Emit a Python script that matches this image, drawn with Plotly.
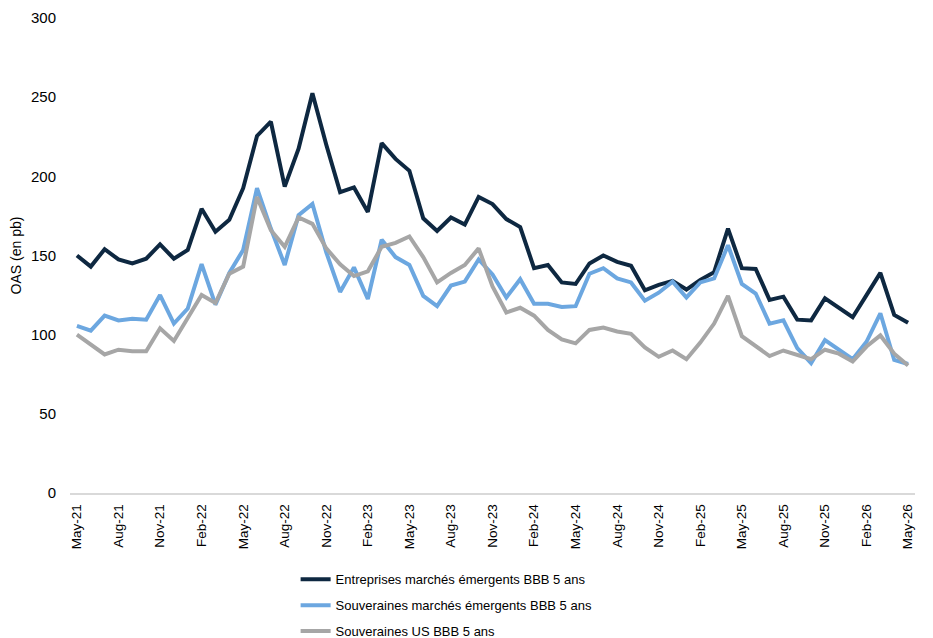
import pandas as pd
import plotly.graph_objects as go

# monthly categories May-21 .. May-26
months = [d.strftime("%b-%y") for d in pd.date_range("2021-05-01", "2026-05-01", freq="MS")]
tick_labels = months[::3]

# OAS in bp
em_corp_bbb = [150, 143, 154, 147.5, 145, 148, 157, 148, 153.5, 179.5,
               165, 172.5, 192.5, 225.5, 234.5, 193.5, 217.5, 252.5, 220, 190,
               193, 177.5, 221, 211, 203.5, 173.5, 165.5, 174, 169.5, 187,
               182.5, 173, 168, 142, 144, 133, 132, 145, 150, 146,
               143.5, 128, 131.5, 134, 128.5, 134.5, 139.5, 167, 142, 141.5,
               122, 124, 109.5, 109, 123, 117, 111, 125, 139, 112.5,
               107.5]
em_sov_bbb = [105.5, 102.5, 112, 109, 110, 109.5, 125, 107, 116.5, 144.5,
              119, 139, 153.5, 192.5, 167, 144, 175.5, 182.5, 152, 127,
              142.5, 122.5, 160, 149, 144, 124.5, 118, 131, 133.5, 147.5,
              138, 123.5, 135, 119.5, 119.5, 117.5, 118, 138.5, 142, 135.5,
              133, 121.5, 126.5, 133.5, 123.5, 133, 135.5, 156.5, 132, 126,
              107, 109, 91.5, 82, 96.5, 90.5, 84.5, 95.5, 113.5, 84,
              81.5]
us_sov_bbb = [100, 93.5, 87.5, 90.5, 89.5, 89.5, 104, 96, 111, 125,
              120, 138.5, 143, 187, 166, 155.5, 174, 170, 154.5, 144.5,
              137, 140, 155.5, 158, 162, 149, 133, 139, 144, 154.5,
              130.5, 114, 117, 112, 103, 97, 94.5, 103, 104.5, 102,
              100.5, 92, 86, 90, 84.5, 95, 107, 124.5, 99, 93,
              86.5, 90, 87, 84.5, 90.5, 88, 83, 92.5, 99.5, 88,
              80.5]

series = [
    ("Entreprises marchés émergents BBB 5 ans", em_corp_bbb, "#0E2841"),
    ("Souveraines marchés émergents BBB 5 ans", em_sov_bbb, "#6CA7E0"),
    ("Souveraines US BBB 5 ans", us_sov_bbb, "#A6A6A6"),
]

fig = go.Figure()
for name, vals, color in series:
    fig.add_trace(go.Scatter(
        x=months, y=vals, name=name, mode="lines",
        legendgroup=name,
        line=dict(color=color, width=4),
    ))

# the page body adds 8px on the left/top, margins allow for it
fig.update_layout(
    width=933, height=638,
    paper_bgcolor="white", plot_bgcolor="white",
    margin=dict(l=62, r=26, t=10, b=153),
    font=dict(family="Liberation Sans, Arial, sans-serif", color="#000000"),
    legend=dict(
        xref="paper", yref="container",
        x=0.267, y=0.128, xanchor="left", yanchor="top",
        orientation="v", tracegroupgap=6,
        font=dict(size=13),
    ),
    xaxis=dict(
        type="category", tickmode="array",
        tickvals=tick_labels, ticktext=tick_labels,
        tickangle=-90, tickfont=dict(size=13.5),
        showgrid=False, zeroline=False, automargin=False,
        showline=True, linecolor="#D9D9D9", linewidth=1.5,
        ticks="", ticklabelstandoff=4,
        range=[-0.5, len(months) - 0.5],
    ),
    yaxis=dict(
        range=[0, 300], tickvals=[0, 50, 100, 150, 200, 250, 300],
        tickfont=dict(size=15), showgrid=False, zeroline=False,
        showline=False, ticks="", automargin=False, ticklabelstandoff=13,
        title=dict(text="OAS (en pb)", font=dict(size=14), standoff=12),
    ),
)

fig.write_html("out.html")
